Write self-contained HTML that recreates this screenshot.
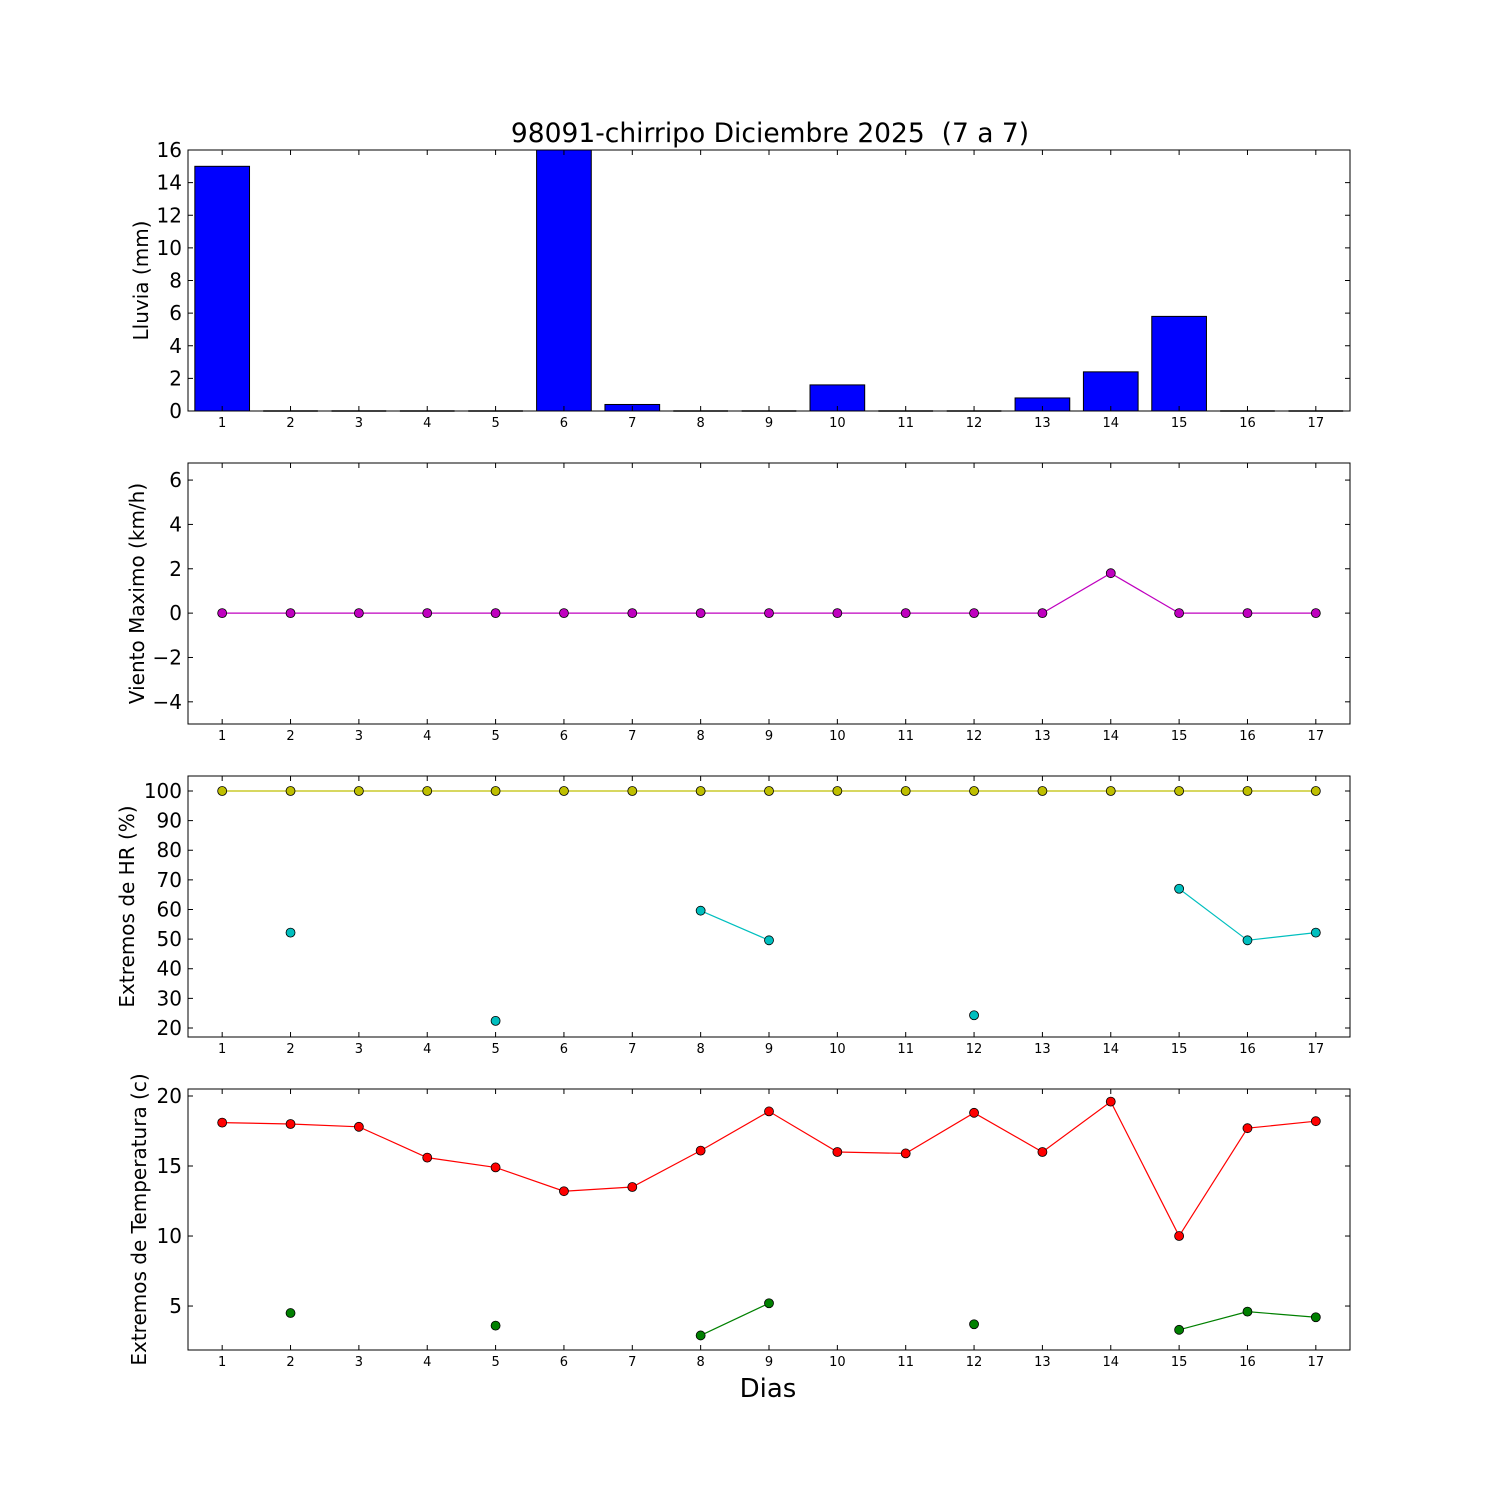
<!DOCTYPE html>
<html><head><meta charset="utf-8"><style>
html,body{margin:0;padding:0;background:#fff;}
svg{display:block;font-family:"DejaVu Sans","Liberation Sans",sans-serif;}
</style></head><body>
<svg id="fig" width="1500" height="1500" viewBox="0 0 1500 1500" xmlns="http://www.w3.org/2000/svg">
<rect width="1500" height="1500" fill="#fff"/>
<text x="770" y="142" font-size="26.5" text-anchor="middle" style="white-space:pre">98091-chirripo Diciembre 2025&#160; (7 a 7)</text>
<text x="768" y="1397" font-size="26" text-anchor="middle">Dias</text>
</svg>
<script>
const days=[1,2,3,4,5,6,7,8,9,10,11,12,13,14,15,16,17];
const rain=[15,0,0,0,0,16.3,0.4,0,0,1.6,0,0,0.8,2.4,5.8,0,0];
const wind=[0,0,0,0,0,0,0,0,0,0,0,0,0,1.8,0,0,0];
const hrMax=[100,100,100,100,100,100,100,100,100,100,100,100,100,100,100,100,100];
const hrMin=[null,52.2,null,null,22.4,null,null,59.6,49.6,null,null,24.3,null,null,67,49.6,52.2];
const tMax=[18.1,18.0,17.8,15.6,14.9,13.2,13.5,16.1,18.9,16.0,15.9,18.8,16.0,19.6,10.0,17.7,18.2];
const tMin=[null,4.5,null,null,3.6,null,null,2.9,5.2,null,null,3.7,null,null,3.3,4.6,4.2];
const rainTicks=[0,2,4,6,8,10,12,14,16];
const windTicks=[-4,-2,0,2,4,6];
const hrTicks=[20,30,40,50,60,70,80,90,100];
const tTicks=[5,10,15,20];

const NS="http://www.w3.org/2000/svg";
const svg=document.getElementById('fig');
function el(t,a,p){const e=document.createElementNS(NS,t);for(const k in a)e.setAttribute(k,a[k]);(p||svg).appendChild(e);return e;}
const X0=188,X1=1350;
const xs=d=>X0+(d-0.5)*(X1-X0)/17;
function yl_x(n){return {rain:148,wind:144,hr:134,temp:146}[n];}

function panel(name,top,bot,ymin,ymax,yticks,ylabel){
  const g=el('g',{});
  
  
  const ys=v=>bot-(v-ymin)*(bot-top)/(ymax-ymin);
  const marks=el('g',{},g);
  const frame=el('g',{},g);
  el('rect',{x:X0,y:top,width:X1-X0,height:bot-top,fill:'none',stroke:'#000','stroke-width':1},frame);
  days.forEach(d=>{
    const x=xs(d);
    el('line',{x1:x,x2:x,y1:bot,y2:bot-5,stroke:'#000'},frame);
    el('line',{x1:x,x2:x,y1:top,y2:top+5,stroke:'#000'},frame);
    const t=el('text',{x:x,y:bot+16,'font-size':13,'text-anchor':'middle'},frame);
    
    
    t.textContent=d;
  });
  yticks.forEach(v=>{
    const y=ys(v);
    el('line',{x1:X0,x2:X0+5,y1:y,y2:y,stroke:'#000'},frame);
    el('line',{x1:X1,x2:X1-5,y1:y,y2:y,stroke:'#000'},frame);
    const t=el('text',{x:X0-6,y:y+7,'font-size':20,'text-anchor':'end'},frame);
    
    
    t.textContent=String(v).replace('-','\u2212');
  });
  const cy=(top+bot)/2;
  const yl=el('text',{x:0,y:0,'font-size':20,'text-anchor':'middle',transform:`translate(${yl_x(name)},${cy}) rotate(-90)`},frame);
  
  
  yl.textContent=ylabel;
  return {marks,ys,top,bot};
}

function series(p,vals,color,name){
  let seg=[];
  const flush=()=>{ if(seg.length>1){const pl=el('polyline',{points:seg.join(' '),fill:'none',stroke:color,'stroke-width':1.2},p.marks);
    
    } seg=[];};
  vals.forEach((v,i)=>{ if(v===null){flush();return;} seg.push(xs(days[i])+','+p.ys(v)); });
  flush();
  vals.forEach((v,i)=>{ if(v===null)return;
    const c=el('circle',{cx:xs(days[i]),cy:p.ys(v),r:4.5,fill:color,stroke:'#000','stroke-width':0.8},p.marks);
    
    
  });
}

const p1=panel('rain',150,411,0,16,rainTicks,'Lluvia (mm)');
rain.forEach((v,i)=>{
  const w=0.8*(X1-X0)/17, x=xs(days[i])-w/2, yt=Math.max(p1.ys(v),p1.top);
  let r;
  if(p1.bot-yt<0.5){
    r=el('line',{x1:x,x2:x+w,y1:p1.bot,y2:p1.bot,stroke:'#000','stroke-width':1.5},p1.marks);
  } else {
    r=el('rect',{x:x,y:yt,width:w,height:p1.bot-yt,fill:'#0000ff',stroke:'#000','stroke-width':1},p1.marks);
  }
  
  
});
const p2=panel('wind',463,724,-5,6.77,windTicks,'Viento Maximo (km/h)');
series(p2,wind,'#bf00bf','wind');
const p3=panel('hr',776,1037,16.96,105.06,hrTicks,'Extremos de HR (%)');
series(p3,hrMax,'#bfbf00','hr-max');
series(p3,hrMin,'#00bfbf','hr-min');
const p4=panel('temp',1089,1350,1.86,20.5,tTicks,'Extremos de Temperatura (c)');
series(p4,tMax,'#ff0000','temp-max');
series(p4,tMin,'#008000','temp-min');
</script>
</body></html>
